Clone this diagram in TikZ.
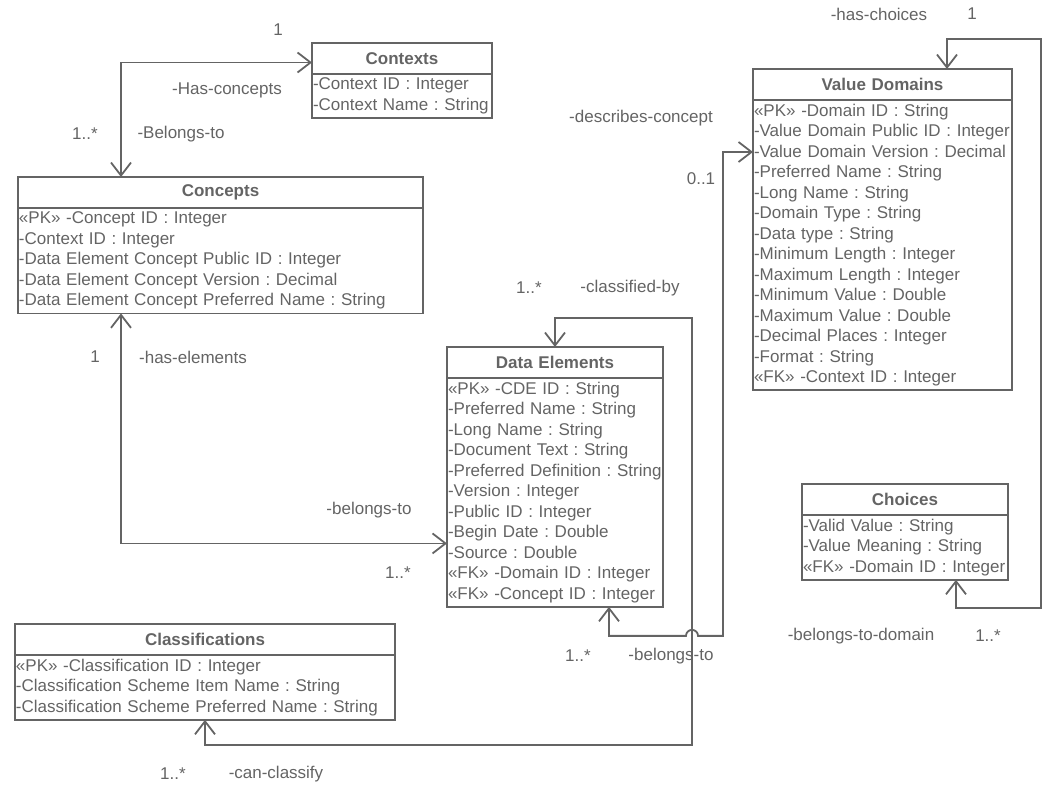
\documentclass[tikz,border=0pt]{standalone}
\usepackage{fontspec}
\setmainfont{Liberation Sans}
\usetikzlibrary{arrows.meta,calc}

\definecolor{ink}{RGB}{100,100,100}
\frenchspacing

\begin{document}
\begin{tikzpicture}[x=1pt, y=-1pt, line width=1.8pt, color=ink,
    font=\fontsize{17}{20.5}\selectfont,
    head/.style = {draw, anchor=north west, outer sep=0pt, inner sep=0pt, minimum height=31pt, text width=#1, align=center, font=\fontsize{17}{20.5}\selectfont\bfseries},
    attr/.style = {draw, anchor=north west, outer sep=0pt, inner xsep=1pt, inner ysep=4pt, text width=#1, align=left},
    assoc/.style = {{Straight Barb[length=13pt,width=20pt]}-{Straight Barb[length=13pt,width=20pt]}},
    lbl/.style = {inner sep=0pt}]
    \useasboundingbox (0,0) rectangle (1050,792);

    \node[head=180pt] (ctx) at (312,43) {Contexts};
    \node[attr=178pt] (ctx-att) at (ctx.south west) {-Context ID : Integer\\-Context Name : String};

    \node[head=405pt] (con) at (18,177) {Concepts};
    \node[attr=403pt] (con-att) at (con.south west) {«PK» -Concept ID : Integer\\-Context ID : Integer\\-Data Element Concept Public ID : Integer\\-Data Element Concept Version : Decimal\\-Data Element Concept Preferred Name : String};

    \node[head=216pt] (de) at (447,347) {Data Elements};
    \node[attr=214pt] (de-att) at (de.south west) {«PK» -CDE ID : String\\-Preferred Name : String\\-Long Name : String\\-Document Text : String\\-Preferred Definition : String\\-Version : Integer\\-Public ID : Integer\\-Begin Date : Double\\-Source : Double\\«FK» -Domain ID : Integer\\«FK» -Concept ID : Integer};

    \node[head=259pt] (vd) at (753,69) {Value Domains};
    \node[attr=257pt] (vd-att) at (vd.south west) {«PK» -Domain ID : String\\-Value Domain Public ID : Integer\\-Value Domain Version : Decimal\\-Preferred Name : String\\-Long Name : String\\-Domain Type : String\\-Data type : String\\-Minimum Length : Integer\\-Maximum Length : Integer\\-Minimum Value : Double\\-Maximum Value : Double\\-Decimal Places : Integer\\-Format : String\\«FK» -Context ID : Integer};

    \node[head=206pt] (ch) at (802,484) {Choices};
    \node[attr=204pt] (ch-att) at (ch.south west) {-Valid Value : String\\-Value Meaning : String\\«FK» -Domain ID : Integer};

    \node[head=380pt] (cls) at (15,624) {Classifications};
    \node[attr=378pt] (cls-att) at (cls.south west) {«PK» -Classification ID : Integer\\-Classification Scheme Item Name : String\\-Classification Scheme Preferred Name : String};

    \coordinate (cross) at ($(de-att.south east)+(29pt,-29pt)$);

    \draw[assoc] ([yshift=-4pt]ctx.west) -| ([xshift=103pt]con.north west);
    \draw[assoc] ([xshift=103pt]con-att.south west) |- ([yshift=-51pt]de-att.west);
    \draw[assoc] ([xshift=162pt]de-att.south west) |- ([xshift=-6pt]cross) arc[start angle=180, end angle=0, radius=6pt] -| ($(vd-att.north west)+(-30pt,-52pt)$) -- ([yshift=-52pt]vd-att.north west);
    \draw[assoc] ([xshift=190pt]cls-att.south west) -- ++(0pt,-25pt) -| (cross) |- ([yshift=29pt]de.north) -- (de.north);
    \draw[assoc] ([xshift=194pt]vd.north west) -- ++(0pt,30pt) -| ($(vd.east |- ch-att.south)+(29pt,-28pt)$) -| ([xshift=154pt]ch-att.south west);

    \node[lbl] (mult1) at (278,30) {1};
    \node[lbl] (role1) at (227,90) {-Has-concepts};
    \node[lbl] (mult2) at (85,134) {1..*};
    \node[lbl] (role2) at (181,134) {-Belongs-to};
    \node[lbl] (role3) at (641,118) {-describes-concept};
    \node[lbl] (mult3) at (701,179) {0..1};
    \node[lbl] (role4) at (879,14) {-has-choices};
    \node[lbl] (mult4) at (972,14) {1};
    \node[lbl] (mult5) at (529,288) {1..*};
    \node[lbl] (role5) at (630,288) {-classified-by};
    \node[lbl] (mult6) at (95,357) {1};
    \node[lbl] (role6) at (193,357) {-has-elements};
    \node[lbl] (role7) at (369,510) {-belongs-to};
    \node[lbl] (mult7) at (398,573) {1..*};
    \node[lbl] (mult8) at (578,656) {1..*};
    \node[lbl] (role8) at (671,656) {-belongs-to};
    \node[lbl] (role9) at (861,636) {-belongs-to-domain};
    \node[lbl] (mult9) at (988,636) {1..*};
    \node[lbl] (mult10) at (173,774) {1..*};
    \node[lbl] (role10) at (276,774) {-can-classify};
\end{tikzpicture}
\end{document}
